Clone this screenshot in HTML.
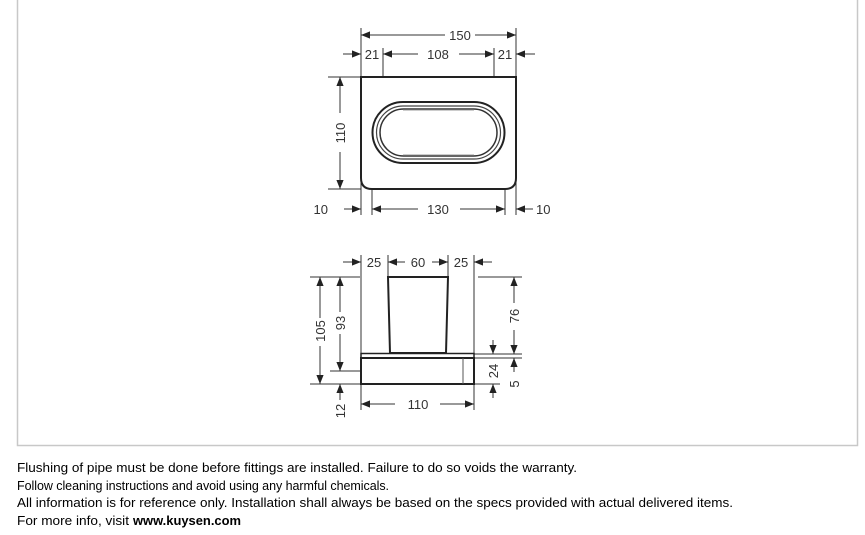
<!DOCTYPE html>
<html><head><meta charset="utf-8"><style>
html,body{margin:0;padding:0;background:#fff;}
svg{display:block;font-family:"Liberation Sans",sans-serif;}
</style></head><body>
<svg width="865" height="535" viewBox="0 0 865 535" xmlns="http://www.w3.org/2000/svg">
<defs>
<marker id="a" viewBox="0 0 10 10" refX="10" refY="5" markerWidth="9" markerHeight="9" orient="auto-start-reverse" markerUnits="userSpaceOnUse"><path d="M0,1 L10,5 L0,9 z" fill="#222"/></marker>
</defs>
<rect x="17.5" y="-1" width="840" height="446.5" fill="#fff" stroke="#c8c8c8" stroke-width="1.5"/>
<g stroke="#333" stroke-width="1" fill="none">
<line x1="361" y1="28" x2="361" y2="215"/>
<line x1="516" y1="28" x2="516" y2="215"/>
<line x1="383" y1="48" x2="383" y2="77"/>
<line x1="494" y1="48" x2="494" y2="77"/>
<line x1="372" y1="190" x2="372" y2="215"/>
<line x1="505" y1="190" x2="505" y2="215"/>
<line x1="328" y1="77" x2="361" y2="77"/>
<line x1="328" y1="189" x2="361" y2="189"/>
<line x1="361" y1="35" x2="445" y2="35" marker-start="url(#a)"/>
<line x1="475" y1="35" x2="516" y2="35" marker-end="url(#a)"/>
<line x1="343" y1="54" x2="361" y2="54" marker-end="url(#a)"/>
<line x1="383" y1="54" x2="418" y2="54" marker-start="url(#a)"/>
<line x1="459" y1="54" x2="494" y2="54" marker-end="url(#a)"/>
<line x1="516" y1="54" x2="535" y2="54" marker-start="url(#a)"/>
<line x1="340" y1="77" x2="340" y2="113" marker-start="url(#a)"/>
<line x1="340" y1="152" x2="340" y2="189" marker-end="url(#a)"/>
<line x1="344" y1="209" x2="361" y2="209" marker-end="url(#a)"/>
<line x1="372" y1="209" x2="418" y2="209" marker-start="url(#a)"/>
<line x1="460" y1="209" x2="505" y2="209" marker-end="url(#a)"/>
<line x1="516" y1="209" x2="533" y2="209" marker-start="url(#a)"/>
</g>
<path d="M361,77 H516 V178 Q516,189 505,189 H372 Q361,189 361,178 Z" fill="#fff" stroke="#222" stroke-width="2"/>
<rect x="372.5" y="102" width="132" height="61" rx="30.5" fill="none" stroke="#222" stroke-width="2"/>
<rect x="376.5" y="106" width="124" height="53" rx="26.5" fill="none" stroke="#444" stroke-width="1.2"/>
<rect x="380" y="109" width="117" height="47" rx="23.5" fill="none" stroke="#333" stroke-width="1.5"/>
<line x1="403" y1="110" x2="474" y2="110" stroke="#999" stroke-width="1"/>
<line x1="403" y1="155" x2="474" y2="155" stroke="#999" stroke-width="1"/>
<g font-size="13" fill="#333" text-anchor="middle">
<text x="460" y="40">150</text>
<text x="372" y="59">21</text>
<text x="438" y="59">108</text>
<text x="505" y="59">21</text>
<text x="328" y="214" text-anchor="end">10</text>
<text x="438" y="214">130</text>
<text x="536" y="214" text-anchor="start">10</text>
<text transform="translate(345,133) rotate(-90)">110</text>
</g>
<g stroke="#333" stroke-width="1" fill="none">
<line x1="361" y1="255" x2="361" y2="410"/>
<line x1="474" y1="255" x2="474" y2="410"/>
<line x1="388" y1="255" x2="388" y2="277"/>
<line x1="448" y1="255" x2="448" y2="277"/>
<line x1="310" y1="277" x2="360" y2="277"/>
<line x1="478" y1="277" x2="522" y2="277"/>
<line x1="310" y1="384" x2="500" y2="384"/>
<line x1="330" y1="371" x2="361" y2="371"/>
<line x1="474" y1="354" x2="522" y2="354"/>
<line x1="474" y1="358" x2="522" y2="358"/>
<line x1="343" y1="262" x2="361" y2="262" marker-end="url(#a)"/>
<line x1="388" y1="262" x2="405" y2="262" marker-start="url(#a)"/>
<line x1="432" y1="262" x2="448" y2="262" marker-end="url(#a)"/>
<line x1="474" y1="262" x2="492" y2="262" marker-start="url(#a)"/>
<line x1="320" y1="277" x2="320" y2="318" marker-start="url(#a)"/>
<line x1="320" y1="346" x2="320" y2="384" marker-end="url(#a)"/>
<line x1="340" y1="277" x2="340" y2="312" marker-start="url(#a)"/>
<line x1="340" y1="334" x2="340" y2="371" marker-end="url(#a)"/>
<line x1="340" y1="400" x2="340" y2="384" marker-end="url(#a)"/>
<line x1="514" y1="277" x2="514" y2="303" marker-start="url(#a)"/>
<line x1="514" y1="330" x2="514" y2="354" marker-end="url(#a)"/>
<line x1="493" y1="340" x2="493" y2="354" marker-end="url(#a)"/>
<line x1="493" y1="398" x2="493" y2="384" marker-end="url(#a)"/>
<line x1="514" y1="372" x2="514" y2="358" marker-end="url(#a)"/>
<line x1="361" y1="404" x2="395" y2="404" marker-start="url(#a)"/>
<line x1="440" y1="404" x2="474" y2="404" marker-end="url(#a)"/>
</g>
<path d="M388,277 H448 L446,353 H390 Z" fill="#fff" stroke="#222" stroke-width="2"/>
<rect x="361" y="353.5" width="113" height="4.5" fill="#fff" stroke="#222" stroke-width="1.5"/>
<rect x="361" y="358" width="113" height="26" fill="#fff" stroke="#222" stroke-width="2"/>
<line x1="463" y1="358" x2="463" y2="384" stroke="#555" stroke-width="1"/>
<g font-size="13" fill="#333" text-anchor="middle">
<text x="374" y="267">25</text>
<text x="418" y="267">60</text>
<text x="461" y="267">25</text>
<text x="418" y="409">110</text>
<text transform="translate(325,331) rotate(-90)">105</text>
<text transform="translate(345,323) rotate(-90)">93</text>
<text transform="translate(345,411) rotate(-90)">12</text>
<text transform="translate(519,316) rotate(-90)">76</text>
<text transform="translate(498,371) rotate(-90)">24</text>
<text transform="translate(519,384) rotate(-90)">5</text>
</g>
<g font-size="12.5" fill="#000">
<text x="17" y="472" textLength="560" lengthAdjust="spacingAndGlyphs">Flushing of pipe must be done before fittings are installed. Failure to do so voids the warranty.</text>
<text x="17" y="490" textLength="372" lengthAdjust="spacing">Follow cleaning instructions and avoid using any harmful chemicals.</text>
<text x="17" y="507" textLength="716" lengthAdjust="spacingAndGlyphs">All information is for reference only. Installation shall always be based on the specs provided with actual delivered items.</text>
<text x="17" y="525" textLength="112" lengthAdjust="spacingAndGlyphs">For more info, visit</text>
<text x="133" y="525" font-weight="bold" textLength="108" lengthAdjust="spacingAndGlyphs">www.kuysen.com</text>
</g>
</svg>
</body></html>
